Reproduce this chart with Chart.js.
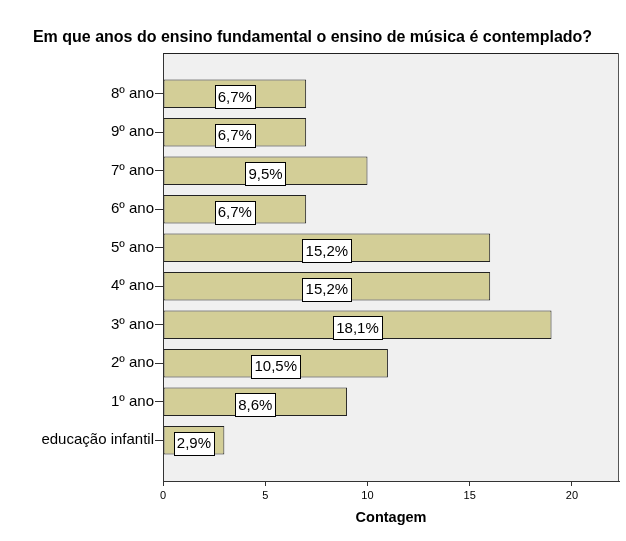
<!DOCTYPE html>
<html><head><meta charset="utf-8">
<script src="https://cdn.jsdelivr.net/npm/chart.js@4"></script>
<style>html,body{margin:0;padding:0;background:#fff}</style>
</head><body>
<canvas id="c" width="626" height="541"></canvas>
<script>
const categories = ['8º ano','9º ano','7º ano','6º ano','5º ano','4º ano','3º ano','2º ano','1º ano','educação infantil'];
const counts = [7,7,10,7,16,16,19,11,9,3];
const percentLabels = ['6,7%','6,7%','9,5%','6,7%','15,2%','15,2%','18,1%','10,5%','8,6%','2,9%'];
const xTicks = [0,5,10,15,20];

const FONT = "'Liberation Sans', Arial, sans-serif";

const framePlugin = {
  id: 'frame',
  beforeDraw(chart) {
    const a = chart.chartArea, ctx = chart.ctx;
    ctx.save();
    ctx.fillStyle = '#f0f0f0';
    ctx.fillRect(a.left, a.top, a.right - a.left, a.bottom - a.top);
    ctx.restore();
  },
  afterDraw(chart) {
    const a = chart.chartArea, ctx = chart.ctx;
    ctx.save();
    ctx.lineWidth = 1;
    ctx.strokeStyle = '#222';
    ctx.beginPath();
    ctx.moveTo(Math.round(a.left) + 0.5, Math.round(a.top) + 0.5);
    ctx.lineTo(Math.round(a.right) - 0.5, Math.round(a.top) + 0.5);
    ctx.stroke();
    ctx.strokeStyle = '#555';
    ctx.beginPath();
    ctx.moveTo(Math.round(a.right) - 0.5, Math.round(a.top) + 0.5);
    ctx.lineTo(Math.round(a.right) - 0.5, Math.round(a.bottom));
    ctx.stroke();
    ctx.restore();
  }
};

const labelPlugin = {
  id: 'boxLabels',
  afterDatasetsDraw(chart) {
    const ctx = chart.ctx;
    const meta = chart.getDatasetMeta(0);
    ctx.save();
    ctx.font = '15px ' + FONT;
    ctx.textAlign = 'center';
    ctx.textBaseline = 'middle';
    meta.data.forEach((el, i) => {
      const txt = percentLabels[i];
      const cx = (el.base + el.x) / 2;
      const cy = el.y + 3;
      const w = Math.round(ctx.measureText(txt).width + 6);
      const h = 23;
      const x0 = Math.round(cx - w / 2) + 0.5, y0 = Math.round(cy - h / 2) + 0.5;
      ctx.fillStyle = '#fff';
      ctx.fillRect(x0, y0, w, h);
      ctx.strokeStyle = '#000';
      ctx.lineWidth = 1;
      ctx.strokeRect(x0, y0, w, h);
      ctx.fillStyle = '#000';
      ctx.fillText(txt, cx, cy + 1);
    });
    ctx.restore();
  }
};

new Chart(document.getElementById('c'), {
  type: 'bar',
  data: {
    datasets: [{
      data: counts.map((v, i) => ({ x: v, y: i })),
      backgroundColor: '#d3ce97',
      borderColor: '#222',
      borderWidth: 1,
      borderSkipped: false,
      barPercentage: 0.74,
      categoryPercentage: 1
    }]
  },
  options: {
    indexAxis: 'y',
    responsive: false,
    animation: false,
    layout: { padding: { top: 0, right: 7, bottom: 0, left: 6 } },
    plugins: {
      legend: { display: false },
      tooltip: { enabled: false },
      title: {
        display: true,
        text: 'Em que anos do ensino fundamental o ensino de música é contemplado?',
        color: '#000',
        font: { family: FONT, size: 16, weight: 'bold' },
        padding: { top: 28, bottom: 6 }
      }
    },
    scales: {
      x: {
        type: 'linear',
        position: 'bottom',
        min: 0,
        max: 22.3,
        afterBuildTicks: s => { s.ticks = xTicks.map(v => ({ value: v })); },
        afterFit: s => { s.height = 60; },
        ticks: { color: '#000', font: { family: FONT, size: 11 }, padding: 3, autoSkip: false, maxRotation: 0 },
        grid: { display: true, drawOnChartArea: false, drawTicks: true, tickLength: 5, color: '#333', offset: false },
        border: { display: true, color: '#333', width: 1 },
        title: { display: true, text: 'Contagem', color: '#000', font: { family: FONT, size: 14.5, weight: 'bold' }, padding: { top: 0, bottom: 14 } }
      },
      y: {
        type: 'linear',
        reverse: true,
        offset: false,
        min: -1.055,
        max: 10.06,
        afterBuildTicks: s => { s.ticks = categories.map((c, i) => ({ value: i })); },
        afterFit: s => { s.width = 157; },
        ticks: { color: '#000', font: { family: FONT, size: 15 }, padding: 1, autoSkip: false, callback: v => categories[v] },
        grid: { display: true, drawOnChartArea: false, drawTicks: true, tickLength: 8, color: '#333', offset: false },
        border: { display: true, color: '#333', width: 1 }
      }
    }
  },
  plugins: [framePlugin, labelPlugin]
});
</script>
</body></html>
